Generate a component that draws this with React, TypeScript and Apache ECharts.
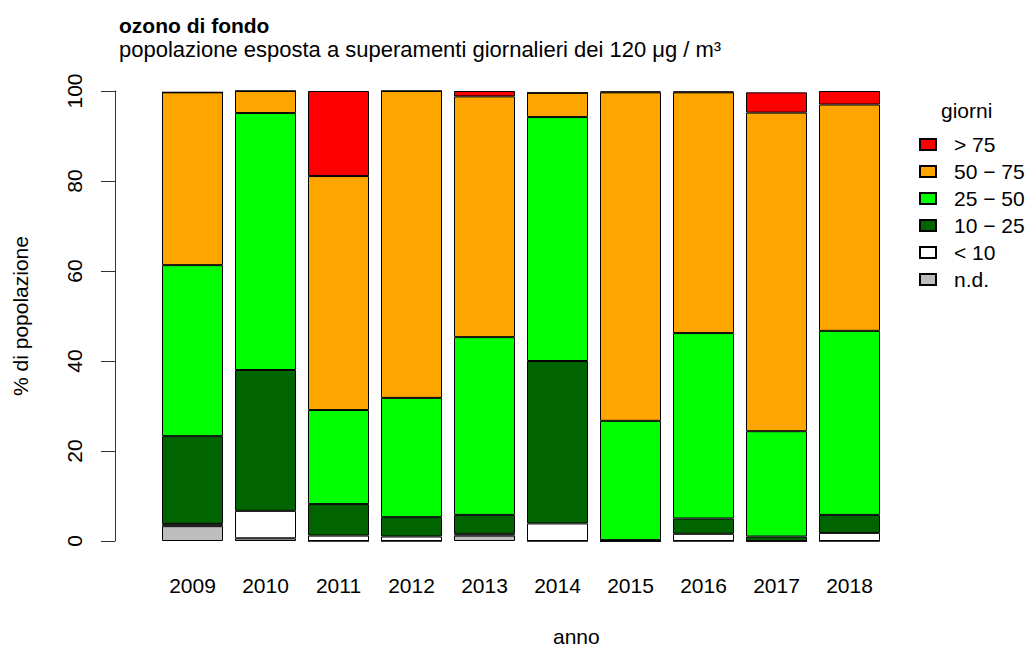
import React, { useEffect, useRef } from "react";
import * as echarts from "echarts";

const years = ["2009", "2010", "2011", "2012", "2013", "2014", "2015", "2016", "2017", "2018"];
const nd = [3.3, 0.6, 0, 0, 1.2, 0, 0, 0, 0, 0];
const lt10 = [0.5, 6.1, 1.2, 1.0, 0.4, 3.9, 0, 1.6, 0, 1.8];
const d10_25 = [19.5, 31.3, 7.0, 4.3, 4.2, 36.1, 0.2, 3.4, 1.0, 4.0];
const d25_50 = [38.0, 57.1, 20.9, 26.5, 39.5, 54.2, 26.5, 41.2, 23.4, 40.9];
const d50_75 = [38.4, 4.9, 52.0, 68.2, 53.5, 5.4, 73.0, 53.5, 70.8, 50.3];
const gt75 = [0, 0, 18.9, 0, 1.2, 0, 0.2, 0.2, 4.5, 3.0];
const yTicks = [0, 20, 40, 60, 80, 100];

const FONT = "'Liberation Sans', Arial, sans-serif";

export default function App() {
  const ref = useRef<HTMLDivElement>(null);
  useEffect(() => {
    document.body.style.margin = "0";
    if (!ref.current) return;
    const chart = echarts.init(ref.current, undefined, { renderer: "svg" });
    const mk = (name: string, data: number[], color: string) => ({
      name,
      type: "bar",
      stack: "tot",
      data,
      barWidth: 61,
      itemStyle: { color, borderColor: "#000", borderWidth: 1 },
      emphasis: { disabled: true },
    });
    chart.setOption({
      animation: false,
      textStyle: { fontFamily: FONT },
      title: [
        {
          text: "ozono di fondo",
          left: 114,
          top: 10,
          textStyle: { fontSize: 21, lineHeight: 21, fontWeight: "bold", color: "#000", fontFamily: FONT },
        },
        {
          text: "popolazione esposta a superamenti giornalieri dei 120 μg / m³",
          left: 114,
          top: 33,
          textStyle: { fontSize: 22, lineHeight: 22, fontWeight: "normal", color: "#000", fontFamily: FONT },
        },
        {
          text: "giorni",
          left: 936,
          top: 95,
          textStyle: { fontSize: 21, fontWeight: "normal", color: "#000", fontFamily: FONT },
        },
      ],
      legend: {
        orient: "vertical",
        left: 914,
        top: 129,
        itemWidth: 16,
        itemHeight: 11,
        itemGap: 6,
        icon: "rect",
        data: ["> 75", "50 − 75", "25 − 50", "10 − 25", "< 10", "n.d."],
        textStyle: { fontSize: 21, color: "#000", fontFamily: FONT, lineHeight: 20, padding: [0, 0, 0, 13] },
        selectedMode: false,
      },
      grid: { left: 156, right: 143, top: 91, bottom: 108, containLabel: false },
      xAxis: {
        type: "category",
        data: years,
        axisLine: { show: false },
        axisTick: { show: false },
        axisLabel: { fontSize: 21, color: "#000", margin: 34, fontFamily: FONT },
      },
      yAxis: {
        type: "value",
        min: yTicks[0],
        max: yTicks[yTicks.length - 1],
        interval: 20,
        offset: 41,
        name: "% di popolazione",
        nameLocation: "middle",
        nameGap: 84,
        nameTextStyle: { fontSize: 21, color: "#000", fontFamily: FONT },
        axisLine: { show: true, lineStyle: { color: "#333", width: 1 } },
        axisTick: { show: true, length: 14, lineStyle: { color: "#333" } },
        axisLabel: { fontSize: 21, color: "#000", rotate: 90, margin: 30, fontFamily: FONT },
        splitLine: { show: false },
      },
      graphic: [
        {
          type: "text",
          left: 553,
          top: 626,
          style: { text: "anno", fontSize: 21, fill: "#000", fontFamily: FONT },
        },
      ],
      series: [
        mk("n.d.", nd, "#BEBEBE"),
        mk("< 10", lt10, "#FFFFFF"),
        mk("10 − 25", d10_25, "#006400"),
        mk("25 − 50", d25_50, "#00FF00"),
        mk("50 − 75", d50_75, "#FFA500"),
        mk("> 75", gt75, "#FF0000"),
      ],
    });
    return () => chart.dispose();
  }, []);
  return <div ref={ref} style={{ width: 1029, height: 649 }} />;
}
